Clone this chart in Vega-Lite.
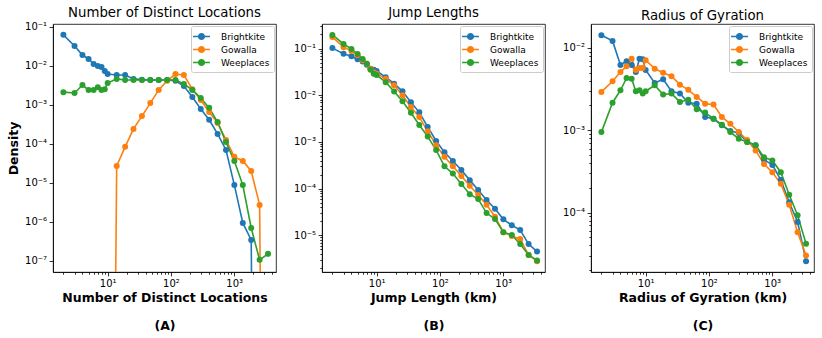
{
  "$schema": "https://vega.github.io/schema/vega-lite/v6.json",
  "padding": {"left": 7, "top": 5, "right": 5, "bottom": 5},
  "background": "white",
  "data": {"values": [
    {"p":"A","s":"Brightkite","x":2,"y":0.062},{"p":"A","s":"Brightkite","x":3,"y":0.032},{"p":"A","s":"Brightkite","x":4,"y":0.0188},{"p":"A","s":"Brightkite","x":5,"y":0.0149},{"p":"A","s":"Brightkite","x":6,"y":0.0111},{"p":"A","s":"Brightkite","x":7,"y":0.0098},{"p":"A","s":"Brightkite","x":8,"y":0.0093},{"p":"A","s":"Brightkite","x":9,"y":0.0073},{"p":"A","s":"Brightkite","x":10,"y":0.0061},{"p":"A","s":"Brightkite","x":13.9,"y":0.0058},{"p":"A","s":"Brightkite","x":18.9,"y":0.0058},{"p":"A","s":"Brightkite","x":25.6,"y":0.0046},{"p":"A","s":"Brightkite","x":34.8,"y":0.0044},{"p":"A","s":"Brightkite","x":47.2,"y":0.0043},{"p":"A","s":"Brightkite","x":64.1,"y":0.0043},{"p":"A","s":"Brightkite","x":87.1,"y":0.0043},{"p":"A","s":"Brightkite","x":118,"y":0.0041},{"p":"A","s":"Brightkite","x":160,"y":0.003},{"p":"A","s":"Brightkite","x":218,"y":0.00158},{"p":"A","s":"Brightkite","x":296,"y":0.00078},{"p":"A","s":"Brightkite","x":402,"y":0.00041},{"p":"A","s":"Brightkite","x":546,"y":0.000178},{"p":"A","s":"Brightkite","x":741,"y":0.000069},{"p":"A","s":"Brightkite","x":1005,"y":0.0000087},{"p":"A","s":"Brightkite","x":1365,"y":9.3e-7},{"p":"A","s":"Brightkite","x":1854,"y":3.4e-7},{"p":"A","s":"Brightkite","x":2518,"y":1e-30},
    {"p":"A","s":"Gowalla","x":10,"y":1e-30},{"p":"A","s":"Gowalla","x":13.9,"y":0.000027},{"p":"A","s":"Gowalla","x":18.9,"y":0.000083},{"p":"A","s":"Gowalla","x":25.6,"y":0.00024},{"p":"A","s":"Gowalla","x":34.8,"y":0.00051},{"p":"A","s":"Gowalla","x":47.2,"y":0.0011},{"p":"A","s":"Gowalla","x":64.1,"y":0.0024},{"p":"A","s":"Gowalla","x":87.1,"y":0.0041},{"p":"A","s":"Gowalla","x":118,"y":0.0061},{"p":"A","s":"Gowalla","x":160,"y":0.0058},{"p":"A","s":"Gowalla","x":218,"y":0.0025},{"p":"A","s":"Gowalla","x":296,"y":0.00132},{"p":"A","s":"Gowalla","x":402,"y":0.00065},{"p":"A","s":"Gowalla","x":546,"y":0.00034},{"p":"A","s":"Gowalla","x":741,"y":0.000125},{"p":"A","s":"Gowalla","x":1005,"y":0.000046},{"p":"A","s":"Gowalla","x":1365,"y":0.000036},{"p":"A","s":"Gowalla","x":1854,"y":0.00002},{"p":"A","s":"Gowalla","x":2518,"y":0.0000027},{"p":"A","s":"Gowalla","x":3420,"y":1e-30},
    {"p":"A","s":"Weeplaces","x":2,"y":0.0021},{"p":"A","s":"Weeplaces","x":3,"y":0.002},{"p":"A","s":"Weeplaces","x":4,"y":0.0032},{"p":"A","s":"Weeplaces","x":5,"y":0.0024},{"p":"A","s":"Weeplaces","x":6,"y":0.0024},{"p":"A","s":"Weeplaces","x":7,"y":0.0028},{"p":"A","s":"Weeplaces","x":8,"y":0.0024},{"p":"A","s":"Weeplaces","x":9,"y":0.0025},{"p":"A","s":"Weeplaces","x":10,"y":0.0036},{"p":"A","s":"Weeplaces","x":13.9,"y":0.0046},{"p":"A","s":"Weeplaces","x":18.9,"y":0.0043},{"p":"A","s":"Weeplaces","x":25.6,"y":0.0043},{"p":"A","s":"Weeplaces","x":34.8,"y":0.0043},{"p":"A","s":"Weeplaces","x":47.2,"y":0.0043},{"p":"A","s":"Weeplaces","x":64.1,"y":0.0043},{"p":"A","s":"Weeplaces","x":87.1,"y":0.0043},{"p":"A","s":"Weeplaces","x":118,"y":0.0043},{"p":"A","s":"Weeplaces","x":160,"y":0.0034},{"p":"A","s":"Weeplaces","x":218,"y":0.0024},{"p":"A","s":"Weeplaces","x":296,"y":0.00149},{"p":"A","s":"Weeplaces","x":402,"y":0.00083},{"p":"A","s":"Weeplaces","x":546,"y":0.00036},{"p":"A","s":"Weeplaces","x":741,"y":0.00011},{"p":"A","s":"Weeplaces","x":1005,"y":0.000036},{"p":"A","s":"Weeplaces","x":1365,"y":0.0000087},{"p":"A","s":"Weeplaces","x":1854,"y":6.9e-7},{"p":"A","s":"Weeplaces","x":2518,"y":1.05e-7},{"p":"A","s":"Weeplaces","x":3420,"y":1.5e-7},
    {"p":"B","s":"Brightkite","x":2,"y":0.102},{"p":"B","s":"Brightkite","x":3,"y":0.077},{"p":"B","s":"Brightkite","x":4,"y":0.068},{"p":"B","s":"Brightkite","x":5,"y":0.059},{"p":"B","s":"Brightkite","x":6,"y":0.053},{"p":"B","s":"Brightkite","x":7,"y":0.045},{"p":"B","s":"Brightkite","x":8,"y":0.037},{"p":"B","s":"Brightkite","x":9,"y":0.035},{"p":"B","s":"Brightkite","x":10,"y":0.033},{"p":"B","s":"Brightkite","x":13.9,"y":0.0244},{"p":"B","s":"Brightkite","x":18.9,"y":0.0177},{"p":"B","s":"Brightkite","x":25.6,"y":0.0121},{"p":"B","s":"Brightkite","x":34.8,"y":0.0071},{"p":"B","s":"Brightkite","x":47.2,"y":0.0043},{"p":"B","s":"Brightkite","x":64.1,"y":0.0021},{"p":"B","s":"Brightkite","x":87.1,"y":0.00105},{"p":"B","s":"Brightkite","x":118,"y":0.0006},{"p":"B","s":"Brightkite","x":160,"y":0.00039},{"p":"B","s":"Brightkite","x":218,"y":0.00025},{"p":"B","s":"Brightkite","x":296,"y":0.000152},{"p":"B","s":"Brightkite","x":402,"y":0.000093},{"p":"B","s":"Brightkite","x":546,"y":0.000057},{"p":"B","s":"Brightkite","x":741,"y":0.000037},{"p":"B","s":"Brightkite","x":1005,"y":0.000022},{"p":"B","s":"Brightkite","x":1365,"y":0.0000165},{"p":"B","s":"Brightkite","x":1854,"y":0.000013},{"p":"B","s":"Brightkite","x":2518,"y":0.0000065},{"p":"B","s":"Brightkite","x":3420,"y":0.0000045},
    {"p":"B","s":"Gowalla","x":2,"y":0.176},{"p":"B","s":"Gowalla","x":3,"y":0.107},{"p":"B","s":"Gowalla","x":4,"y":0.089},{"p":"B","s":"Gowalla","x":5,"y":0.072},{"p":"B","s":"Gowalla","x":6,"y":0.056},{"p":"B","s":"Gowalla","x":7,"y":0.047},{"p":"B","s":"Gowalla","x":8,"y":0.037},{"p":"B","s":"Gowalla","x":9,"y":0.031},{"p":"B","s":"Gowalla","x":10,"y":0.029},{"p":"B","s":"Gowalla","x":13.9,"y":0.0225},{"p":"B","s":"Gowalla","x":18.9,"y":0.0163},{"p":"B","s":"Gowalla","x":25.6,"y":0.01},{"p":"B","s":"Gowalla","x":34.8,"y":0.0056},{"p":"B","s":"Gowalla","x":47.2,"y":0.0034},{"p":"B","s":"Gowalla","x":64.1,"y":0.0017},{"p":"B","s":"Gowalla","x":87.1,"y":0.00085},{"p":"B","s":"Gowalla","x":118,"y":0.00048},{"p":"B","s":"Gowalla","x":160,"y":0.0003},{"p":"B","s":"Gowalla","x":218,"y":0.000186},{"p":"B","s":"Gowalla","x":296,"y":0.000115},{"p":"B","s":"Gowalla","x":402,"y":0.000073},{"p":"B","s":"Gowalla","x":546,"y":0.000045},{"p":"B","s":"Gowalla","x":741,"y":0.000025},{"p":"B","s":"Gowalla","x":1005,"y":0.0000117},{"p":"B","s":"Gowalla","x":1365,"y":0.0000097},{"p":"B","s":"Gowalla","x":1854,"y":0.0000083},{"p":"B","s":"Gowalla","x":2518,"y":0.0000038},{"p":"B","s":"Gowalla","x":3420,"y":0.0000028},
    {"p":"B","s":"Weeplaces","x":2,"y":0.195},{"p":"B","s":"Weeplaces","x":3,"y":0.125},{"p":"B","s":"Weeplaces","x":4,"y":0.098},{"p":"B","s":"Weeplaces","x":5,"y":0.076},{"p":"B","s":"Weeplaces","x":6,"y":0.06},{"p":"B","s":"Weeplaces","x":7,"y":0.047},{"p":"B","s":"Weeplaces","x":8,"y":0.035},{"p":"B","s":"Weeplaces","x":9,"y":0.029},{"p":"B","s":"Weeplaces","x":10,"y":0.027},{"p":"B","s":"Weeplaces","x":13.9,"y":0.019},{"p":"B","s":"Weeplaces","x":18.9,"y":0.012},{"p":"B","s":"Weeplaces","x":25.6,"y":0.0074},{"p":"B","s":"Weeplaces","x":34.8,"y":0.0042},{"p":"B","s":"Weeplaces","x":47.2,"y":0.0023},{"p":"B","s":"Weeplaces","x":64.1,"y":0.0013},{"p":"B","s":"Weeplaces","x":87.1,"y":0.00067},{"p":"B","s":"Weeplaces","x":118,"y":0.0003},{"p":"B","s":"Weeplaces","x":160,"y":0.00021},{"p":"B","s":"Weeplaces","x":218,"y":0.000126},{"p":"B","s":"Weeplaces","x":296,"y":0.000076},{"p":"B","s":"Weeplaces","x":402,"y":0.00006},{"p":"B","s":"Weeplaces","x":546,"y":0.00003},{"p":"B","s":"Weeplaces","x":741,"y":0.0000224},{"p":"B","s":"Weeplaces","x":1005,"y":0.0000117},{"p":"B","s":"Weeplaces","x":1365,"y":0.0000102},{"p":"B","s":"Weeplaces","x":1854,"y":0.0000065},{"p":"B","s":"Weeplaces","x":2518,"y":0.0000038},{"p":"B","s":"Weeplaces","x":3420,"y":0.0000029},
    {"p":"C","s":"Brightkite","x":2,"y":0.01426},{"p":"C","s":"Brightkite","x":3,"y":0.01216},{"p":"C","s":"Brightkite","x":4,"y":0.0062},{"p":"C","s":"Brightkite","x":5,"y":0.0069},{"p":"C","s":"Brightkite","x":6,"y":0.0062},{"p":"C","s":"Brightkite","x":7,"y":0.0051},{"p":"C","s":"Brightkite","x":8,"y":0.0074},{"p":"C","s":"Brightkite","x":9,"y":0.0073},{"p":"C","s":"Brightkite","x":10,"y":0.0054},{"p":"C","s":"Brightkite","x":13.9,"y":0.00376},{"p":"C","s":"Brightkite","x":18.9,"y":0.00416},{"p":"C","s":"Brightkite","x":25.6,"y":0.00298},{"p":"C","s":"Brightkite","x":34.8,"y":0.00279},{"p":"C","s":"Brightkite","x":47.2,"y":0.00216},{"p":"C","s":"Brightkite","x":64.1,"y":0.0021},{"p":"C","s":"Brightkite","x":87.1,"y":0.00145},{"p":"C","s":"Brightkite","x":118,"y":0.00138},{"p":"C","s":"Brightkite","x":160,"y":0.00115},{"p":"C","s":"Brightkite","x":218,"y":0.00098},{"p":"C","s":"Brightkite","x":296,"y":0.00093},{"p":"C","s":"Brightkite","x":402,"y":0.00072},{"p":"C","s":"Brightkite","x":546,"y":0.00066},{"p":"C","s":"Brightkite","x":741,"y":0.00044},{"p":"C","s":"Brightkite","x":1005,"y":0.00038},{"p":"C","s":"Brightkite","x":1365,"y":0.00025},{"p":"C","s":"Brightkite","x":1854,"y":0.000134},{"p":"C","s":"Brightkite","x":2518,"y":0.000077},{"p":"C","s":"Brightkite","x":3420,"y":0.0000258},
    {"p":"C","s":"Gowalla","x":2,"y":0.00292},{"p":"C","s":"Gowalla","x":3,"y":0.00394},{"p":"C","s":"Gowalla","x":4,"y":0.0051},{"p":"C","s":"Gowalla","x":5,"y":0.006},{"p":"C","s":"Gowalla","x":6,"y":0.0074},{"p":"C","s":"Gowalla","x":7,"y":0.0054},{"p":"C","s":"Gowalla","x":8,"y":0.0057},{"p":"C","s":"Gowalla","x":9,"y":0.0057},{"p":"C","s":"Gowalla","x":10,"y":0.0071},{"p":"C","s":"Gowalla","x":13.9,"y":0.0056},{"p":"C","s":"Gowalla","x":18.9,"y":0.005},{"p":"C","s":"Gowalla","x":25.6,"y":0.00453},{"p":"C","s":"Gowalla","x":34.8,"y":0.00358},{"p":"C","s":"Gowalla","x":47.2,"y":0.0031},{"p":"C","s":"Gowalla","x":64.1,"y":0.00254},{"p":"C","s":"Gowalla","x":87.1,"y":0.0021},{"p":"C","s":"Gowalla","x":118,"y":0.00205},{"p":"C","s":"Gowalla","x":160,"y":0.00145},{"p":"C","s":"Gowalla","x":218,"y":0.0012},{"p":"C","s":"Gowalla","x":296,"y":0.00095},{"p":"C","s":"Gowalla","x":402,"y":0.00076},{"p":"C","s":"Gowalla","x":546,"y":0.00057},{"p":"C","s":"Gowalla","x":741,"y":0.00039},{"p":"C","s":"Gowalla","x":1005,"y":0.00031},{"p":"C","s":"Gowalla","x":1365,"y":0.000224},{"p":"C","s":"Gowalla","x":1854,"y":0.000125},{"p":"C","s":"Gowalla","x":2518,"y":0.000058},{"p":"C","s":"Gowalla","x":3420,"y":0.0000303},
    {"p":"C","s":"Weeplaces","x":2,"y":0.00095},{"p":"C","s":"Weeplaces","x":3,"y":0.00216},{"p":"C","s":"Weeplaces","x":4,"y":0.00306},{"p":"C","s":"Weeplaces","x":5,"y":0.00431},{"p":"C","s":"Weeplaces","x":6,"y":0.00423},{"p":"C","s":"Weeplaces","x":7,"y":0.00298},{"p":"C","s":"Weeplaces","x":8,"y":0.00306},{"p":"C","s":"Weeplaces","x":9,"y":0.00279},{"p":"C","s":"Weeplaces","x":10,"y":0.00298},{"p":"C","s":"Weeplaces","x":13.9,"y":0.00352},{"p":"C","s":"Weeplaces","x":18.9,"y":0.00271},{"p":"C","s":"Weeplaces","x":25.6,"y":0.00279},{"p":"C","s":"Weeplaces","x":34.8,"y":0.00221},{"p":"C","s":"Weeplaces","x":47.2,"y":0.00235},{"p":"C","s":"Weeplaces","x":64.1,"y":0.0018},{"p":"C","s":"Weeplaces","x":87.1,"y":0.00164},{"p":"C","s":"Weeplaces","x":118,"y":0.00138},{"p":"C","s":"Weeplaces","x":160,"y":0.00117},{"p":"C","s":"Weeplaces","x":218,"y":0.00095},{"p":"C","s":"Weeplaces","x":296,"y":0.00079},{"p":"C","s":"Weeplaces","x":402,"y":0.00072},{"p":"C","s":"Weeplaces","x":546,"y":0.00066},{"p":"C","s":"Weeplaces","x":741,"y":0.00047},{"p":"C","s":"Weeplaces","x":1005,"y":0.00043},{"p":"C","s":"Weeplaces","x":1365,"y":0.00031},{"p":"C","s":"Weeplaces","x":1854,"y":0.000165},{"p":"C","s":"Weeplaces","x":2518,"y":0.000093},{"p":"C","s":"Weeplaces","x":3420,"y":0.000042}
  ]},
  "spacing": 46,
  "bounds": "flush",
  "resolve": {"legend": {"color": "independent"}},
  "config": {
    "font": "DejaVu Sans",
    "view": {"stroke": "black", "strokeWidth": 0.8},
    "axis": {
      "grid": false, "domainColor": "black", "domainWidth": 0.8, "tickColor": "black", "tickWidth": 0.8,
      "labelColor": "black", "labelFont": "DejaVu Sans", "labelFontSize": 10, "labelPadding": 2.5,
      "labelOverlap": false, "labelFlush": false, "labelBound": false,
      "titleFont": "DejaVu Sans", "titleFontSize": 12.5, "titleFontWeight": "bold", "titleColor": "black",
      "tickSize": {"condition": {"test": "abs(datum.value/pow(10,round(log(datum.value)/LN10))-1)<1e-6", "value": 3.9}, "value": 2.2},
      "labelExpr": "abs(datum.value/pow(10,round(log(datum.value)/LN10))-1)<1e-6 ? '10' + (round(log(datum.value)/LN10)<0 ? '⁻' : '') + ['⁰','¹','²','³','⁴','⁵','⁶','⁷','⁸','⁹'][abs(round(log(datum.value)/LN10))] : ''"
    },
    "title": {"font": "DejaVu Sans", "fontSize": 13.3, "fontWeight": "normal", "color": "black", "offset": 0, "dy": 2},
    "legend": {
      "title": null, "orient": "top-right", "offset": 2,
      "symbolType": "M-1.3,-0.115H1.3V0.115H-1.3Z M0.55,0A0.55,0.55,0,1,1,-0.55,0A0.55,0.55,0,1,1,0.55,0Z",
      "symbolSize": 169, "symbolStrokeWidth": 0, "symbolOpacity": 1,
      "labelFont": "DejaVu Sans", "labelFontSize": 9, "labelColor": "black", "labelOffset": 13,
      "rowPadding": 1, "padding": 4, "strokeColor": "#cccccc", "fillColor": "rgba(255,255,255,0.8)", "cornerRadius": 2
    }
  },
  "hconcat": [
    {
      "width": 223, "height": 248,
      "title": "Number of Distinct Locations",
      "transform": [{"filter": "datum.p == 'A'"}],
      "encoding": {
        "x": {"field": "x", "type": "quantitative",
          "scale": {"type": "log", "domain": [1.37, 4570], "nice": false},
          "axis": {"values": [2,3,4,5,6,7,8,9,10,20,30,40,50,60,70,80,90,100,200,300,400,500,600,700,800,900,1000,2000,3000,4000],
                   "title": ["Number of Distinct Locations", "(A)"], "titleLineHeight": 28, "titlePadding": 3}},
        "y": {"field": "y", "type": "quantitative",
          "scale": {"type": "log", "domain": [5.13e-8, 0.1175], "nice": false},
          "axis": {"values": [1e-7,1e-6,1e-5,1e-4,1e-3,1e-2,1e-1], "title": "Density", "titlePadding": 4}}
      },
      "layer": [
        {"mark": {"type": "line", "clip": true, "strokeWidth": 1.6},
         "encoding": {"stroke": {"field": "s", "type": "nominal", "scale": {"domain": ["Brightkite","Gowalla","Weeplaces"], "range": ["#1f77b4","#ff7f0e","#2ca02c"]}, "legend": null}}},
        {"mark": {"type": "point", "filled": true, "opacity": 1, "size": 36, "clip": true},
         "encoding": {"color": {"field": "s", "type": "nominal", "scale": {"domain": ["Brightkite","Gowalla","Weeplaces"], "range": ["#1f77b4","#ff7f0e","#2ca02c"]}}}}
      ]
    },
    {
      "width": 223, "height": 248,
      "title": "Jump Lengths",
      "transform": [{"filter": "datum.p == 'B'"}],
      "encoding": {
        "x": {"field": "x", "type": "quantitative",
          "scale": {"type": "log", "domain": [1.37, 4570], "nice": false},
          "axis": {"values": [2,3,4,5,6,7,8,9,10,20,30,40,50,60,70,80,90,100,200,300,400,500,600,700,800,900,1000,2000,3000,4000],
                   "title": ["Jump Length (km)", "(B)"], "titleLineHeight": 28, "titlePadding": 3}},
        "y": {"field": "y", "type": "quantitative",
          "scale": {"type": "log", "domain": [1.64e-6, 0.335], "nice": false},
          "axis": {"values": [2e-6,3e-6,4e-6,5e-6,6e-6,7e-6,8e-6,9e-6,1e-5,2e-5,3e-5,4e-5,5e-5,6e-5,7e-5,8e-5,9e-5,1e-4,2e-4,3e-4,4e-4,5e-4,6e-4,7e-4,8e-4,9e-4,1e-3,2e-3,3e-3,4e-3,5e-3,6e-3,7e-3,8e-3,9e-3,1e-2,2e-2,3e-2,4e-2,5e-2,6e-2,7e-2,8e-2,9e-2,1e-1,2e-1,3e-1], "title": null}}
      },
      "layer": [
        {"mark": {"type": "line", "clip": true, "strokeWidth": 1.6},
         "encoding": {"stroke": {"field": "s", "type": "nominal", "scale": {"domain": ["Brightkite","Gowalla","Weeplaces"], "range": ["#1f77b4","#ff7f0e","#2ca02c"]}, "legend": null}}},
        {"mark": {"type": "point", "filled": true, "opacity": 1, "size": 36, "clip": true},
         "encoding": {"color": {"field": "s", "type": "nominal", "scale": {"domain": ["Brightkite","Gowalla","Weeplaces"], "range": ["#1f77b4","#ff7f0e","#2ca02c"]}}}}
      ]
    },
    {
      "width": 223, "height": 248,
      "title": "Radius of Gyration",
      "transform": [{"filter": "datum.p == 'C'"}],
      "encoding": {
        "x": {"field": "x", "type": "quantitative",
          "scale": {"type": "log", "domain": [1.37, 4570], "nice": false},
          "axis": {"values": [2,3,4,5,6,7,8,9,10,20,30,40,50,60,70,80,90,100,200,300,400,500,600,700,800,900,1000,2000,3000,4000],
                   "title": ["Radius of Gyration (km)", "(C)"], "titleLineHeight": 28, "titlePadding": 3}},
        "y": {"field": "y", "type": "quantitative",
          "scale": {"type": "log", "domain": [1.905e-5, 0.0195], "nice": false},
          "axis": {"values": [2e-5,3e-5,4e-5,5e-5,6e-5,7e-5,8e-5,9e-5,1e-4,2e-4,3e-4,4e-4,5e-4,6e-4,7e-4,8e-4,9e-4,1e-3,2e-3,3e-3,4e-3,5e-3,6e-3,7e-3,8e-3,9e-3,1e-2], "title": null}}
      },
      "layer": [
        {"mark": {"type": "line", "clip": true, "strokeWidth": 1.6},
         "encoding": {"stroke": {"field": "s", "type": "nominal", "scale": {"domain": ["Brightkite","Gowalla","Weeplaces"], "range": ["#1f77b4","#ff7f0e","#2ca02c"]}, "legend": null}}},
        {"mark": {"type": "point", "filled": true, "opacity": 1, "size": 36, "clip": true},
         "encoding": {"color": {"field": "s", "type": "nominal", "scale": {"domain": ["Brightkite","Gowalla","Weeplaces"], "range": ["#1f77b4","#ff7f0e","#2ca02c"]}}}}
      ]
    }
  ]
}
